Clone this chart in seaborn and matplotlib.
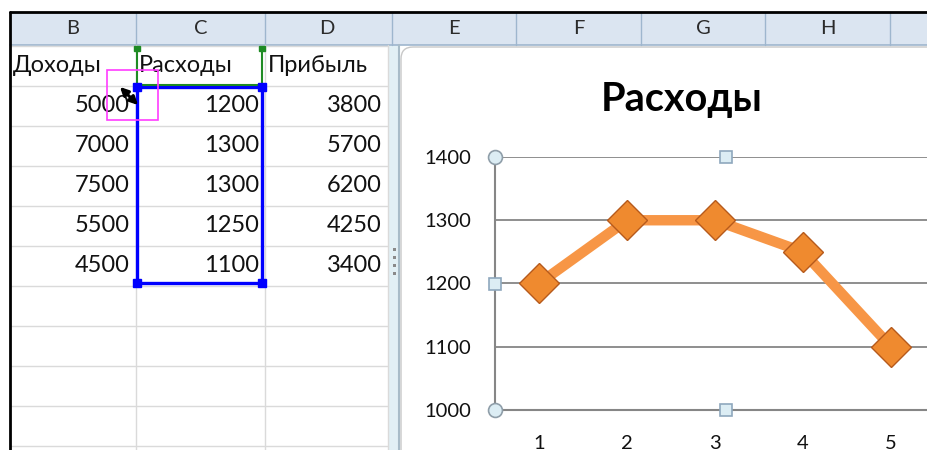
import matplotlib
matplotlib.use('Agg')
import matplotlib.pyplot as plt
import seaborn as sns
import pandas as pd
from matplotlib.patches import Rectangle, FancyBboxPatch

# Table data
col_letters_left = ['B', 'C', 'D']
col_letters_right = ['E', 'F', 'G', 'H']
headers = ['Доходы', 'Расходы', 'Прибыль']
income = [5000, 7000, 7500, 5500, 4500]
expenses = [1200, 1300, 1300, 1250, 1100]
profit = [3800, 5700, 6200, 4250, 3400]
months = [1, 2, 3, 4, 5]
chart_title = 'Расходы'
y_ticks = [1000, 1100, 1200, 1300, 1400]

sns.set_style('white')
plt.rcParams['font.family'] = ['Lato', 'DejaVu Sans']

W, H = 928, 450
fig = plt.figure(figsize=(W / 100, H / 100), dpi=100)

# background "sheet" axes in pixel coordinates
bg = fig.add_axes([0, 0, 1, 1])
bg.set_xlim(0, W)
bg.set_ylim(H, 0)
bg.axis('off')

grid_c = '#dadada'
head_fill = '#dbe5f1'
head_line = '#9eb6ce'

left_edges = [10, 136, 265, 388]
right_edges = [392, 516, 641, 765, 890]
row_top = 45
row_h = 40

# header row
bg.add_patch(Rectangle((10, 12), W, row_top - 12, color=head_fill, lw=0))
bg.plot([10, W], [row_top, row_top], color=head_line, lw=1.2)
for i, letter in enumerate(col_letters_left):
    x0, x1 = left_edges[i], left_edges[i + 1]
    if i > 0:
        bg.plot([x0, x0], [12, row_top], color=head_line, lw=1)
    bg.text((x0 + x1) / 2, 29, letter, ha='center', va='center', fontsize=14.5, color='#2b2b2b')
for x0 in right_edges:
    bg.plot([x0, x0], [12, row_top], color=head_line, lw=1)
for i, letter in enumerate(col_letters_right):
    x0, x1 = right_edges[i], right_edges[i + 1]
    bg.text((x0 + x1) / 2, 29, letter, ha='center', va='center', fontsize=14.5, color='#2b2b2b')

# cell grid
for r in range(11):
    y = row_top + r * row_h + 1
    bg.plot([10, 388], [y, y], color=grid_c, lw=1)
for x in left_edges[1:]:
    bg.plot([x, x], [row_top, H], color=grid_c, lw=1)

# cell texts
for j, name in enumerate(headers):
    bg.text(left_edges[j] + 3, row_top + row_h / 2 + 1, name, ha='left', va='center',
            fontsize=17, color='#111111')
columns = [income, expenses, profit]
for j, col in enumerate(columns):
    for i, v in enumerate(col):
        bg.text(left_edges[j + 1] - 6, row_top + (i + 1.5) * row_h + 1, str(v),
                ha='right', va='center', fontsize=17, color='#111111')

# frozen-pane splitter
bg.add_patch(Rectangle((388, row_top), 11, H, color='#e2f0f5', lw=0))
bg.plot([399, 399], [row_top, H], color='#a8bcc8', lw=1.5)
for yy in [248, 256, 264, 272]:
    bg.add_patch(Rectangle((393.5, yy), 3, 3, color='#8a8a8a', lw=0))

# chart area
bg.add_patch(FancyBboxPatch((401, 47), 600, 500, boxstyle='round,pad=0,rounding_size=12',
                            fc='white', ec='#c8c8c8', lw=1))

# selection decorations
bg.add_patch(Rectangle((137, 87), 125, 196, fill=False, ec='#0000ff', lw=2.4, zorder=5))
for cx, cy in [(137, 87), (262, 87), (137, 283), (262, 283)]:
    bg.add_patch(Rectangle((cx - 4, cy - 4), 8, 8, color='#0000ff', zorder=6))
green = '#1f8b24'
bg.plot([137, 137], [49, 85], color=green, lw=1.5, zorder=5)
bg.plot([262, 262], [49, 85], color=green, lw=1.5, zorder=5)
bg.plot([137, 262], [85, 85], color=green, lw=1.5, zorder=5)
for cx, cy in [(137, 49), (262, 49)]:
    bg.add_patch(Rectangle((cx - 3, cy - 3), 6, 5, color=green, zorder=6))
bg.add_patch(Rectangle((107, 70), 51, 50, fill=False, ec='#ff3cff', lw=1.2, zorder=7))
bg.annotate('', xy=(118, 85), xytext=(140, 107),
            arrowprops=dict(arrowstyle='<|-|>', color='black', lw=2.2, mutation_scale=12),
            zorder=8)

# black window border
bg.plot([10, W], [12, 12], color='black', lw=2)
bg.plot([10, 10], [12, H], color='black', lw=2)

# chart plot area
ax_left, ax_right, ax_top, ax_bot = 495, 935, 157, 410
ax = fig.add_axes([ax_left / W, 1 - ax_bot / H, (ax_right - ax_left) / W, (ax_bot - ax_top) / H])
ax.set_facecolor('none')

df = pd.DataFrame({'month': months, 'expenses': expenses})
sns.lineplot(data=df, x='month', y='expenses', ax=ax, color='#f79646', lw=7.5,
             marker='D', markersize=20, markerfacecolor='#ef8a2f',
             markeredgecolor='#b65a1c', markeredgewidth=1.0, zorder=4)

ax.set_xlim(0.5, 5.5)
ax.set_ylim(1000, 1400)
ax.set_yticks(y_ticks)
ax.set_xticks(months)
ax.set_xticks([m + 0.5 for m in months[:-1]], minor=True)
ax.set_xlabel('')
ax.set_ylabel('')
axis_c = '#868686'
ax.yaxis.grid(True, color=axis_c, lw=1.3)
ax.xaxis.grid(False)
for s in ['top', 'right']:
    ax.spines[s].set_visible(False)
for s in ['left', 'bottom']:
    ax.spines[s].set_color(axis_c)
    ax.spines[s].set_linewidth(1.5)
ax.tick_params(axis='y', which='major', direction='out', length=7, width=1.3,
               color=axis_c, pad=10, labelsize=14.5, labelcolor='#111111')
ax.tick_params(axis='x', which='major', length=0, pad=18, labelsize=14.5, labelcolor='#111111')
ax.tick_params(axis='x', which='minor', direction='out', length=7, width=1.3, color=axis_c)

# plot-area selection handles
hx = (726 - ax_left) / (ax_right - ax_left)
for x, y in [(0, 1), (0, 0)]:
    ax.plot(x, y, 'o', ms=10, mfc='#dcedf4', mec='#8f9ea9', mew=1.2,
            transform=ax.transAxes, clip_on=False, zorder=6)
for x, y in [(hx, 1), (hx, 0), (0, 0.5)]:
    ax.plot(x, y, 's', ms=9, mfc='#dcedf4', mec='#8fa8bd', mew=1.2,
            transform=ax.transAxes, clip_on=False, zorder=6)

fig.text(682 / W, 1 - 100 / H, chart_title, ha='center', va='center',
         fontsize=28.5, fontweight='bold', color='black')

fig.savefig('out.png', dpi=100)
